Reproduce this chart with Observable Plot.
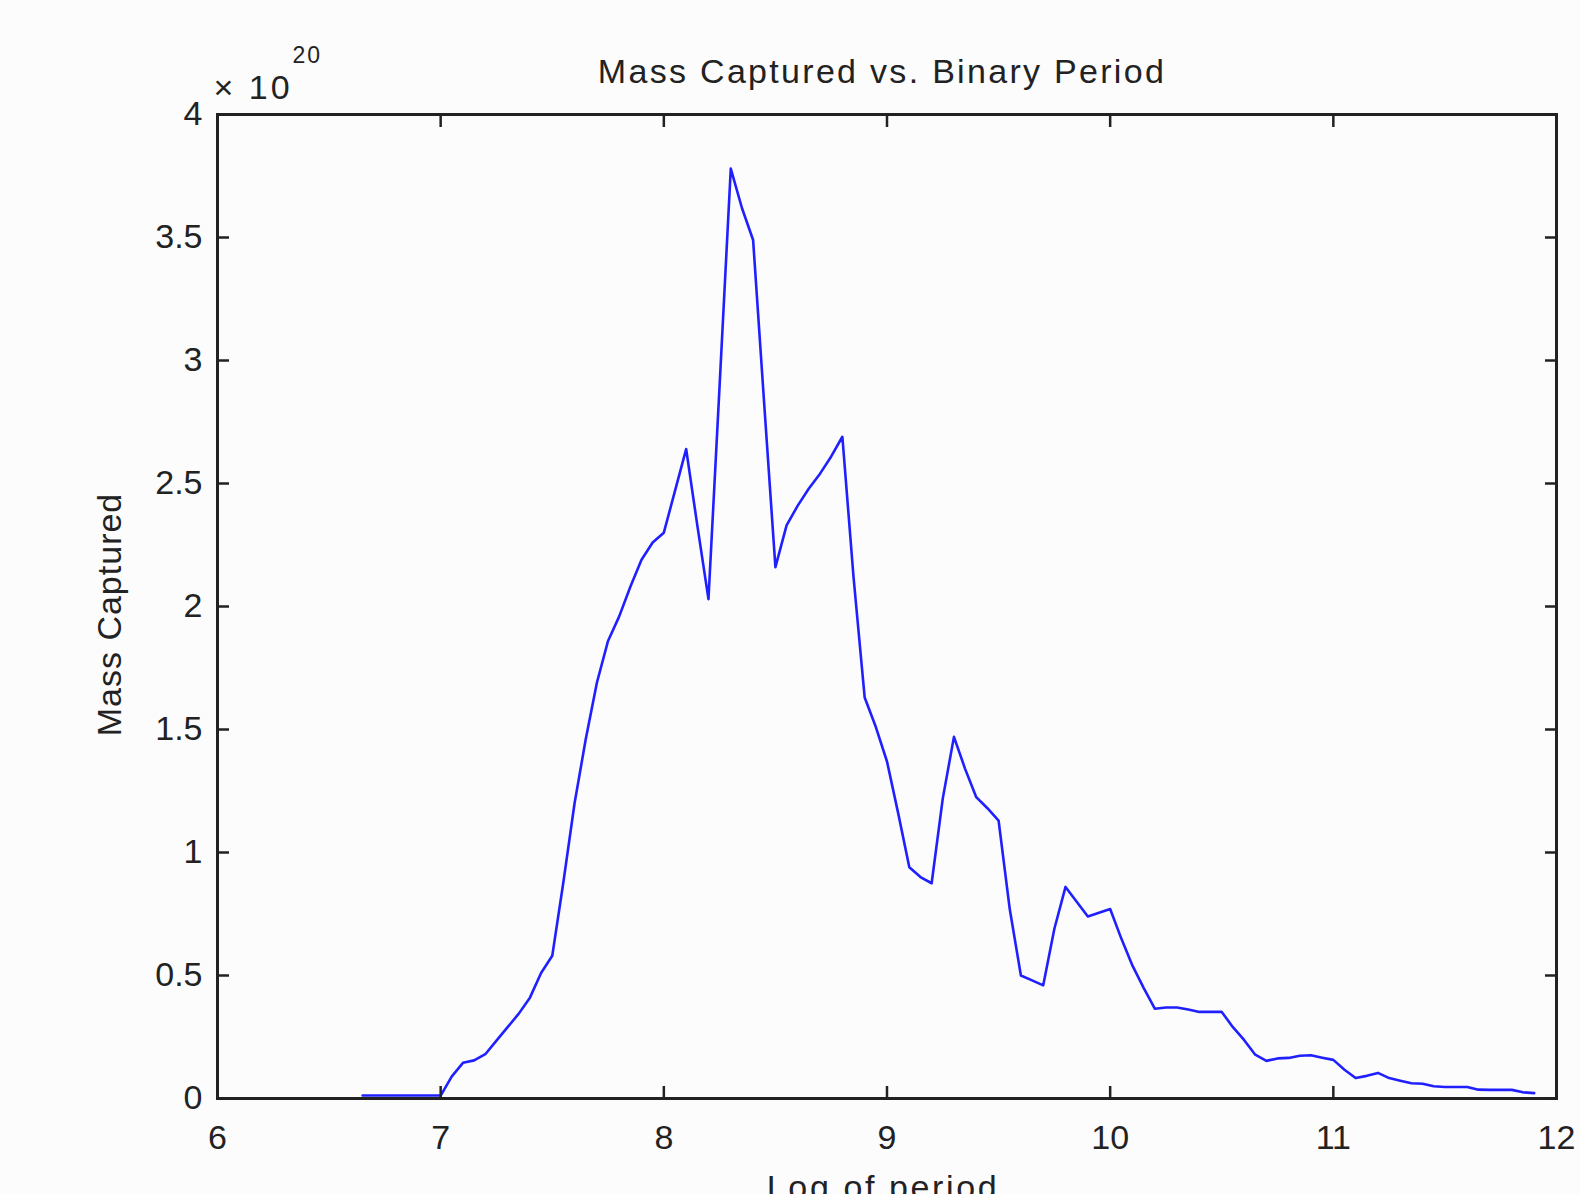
<!DOCTYPE html>
<html><head><meta charset="utf-8">
<script src="https://cdn.jsdelivr.net/npm/d3@7"></script>
<script src="https://cdn.jsdelivr.net/npm/@observablehq/plot@0.6"></script>
<style>
html,body{margin:0;padding:0;background:#fcfcfc;}
#chart svg{display:block;}
</style></head><body><div id="chart"></div>
<script>
// Log of binary period (x) and mass captured in units of 1e20 (y)
const logPeriod = [6.65,6.7,6.75,6.8,6.85,6.9,6.95,7.0,7.05,7.1,7.15,7.2,7.25,7.3,7.35,7.4,7.45,7.5,7.55,7.6,7.65,7.7,7.75,7.8,7.85,7.9,7.95,8.0,8.05,8.1,8.15,8.2,8.25,8.3,8.35,8.4,8.45,8.5,8.55,8.6,8.65,8.7,8.75,8.8,8.85,8.9,8.95,9.0,9.05,9.1,9.15,9.2,9.25,9.3,9.35,9.4,9.45,9.5,9.55,9.6,9.65,9.7,9.75,9.8,9.85,9.9,9.95,10.0,10.05,10.1,10.15,10.2,10.25,10.3,10.35,10.4,10.45,10.5,10.55,10.6,10.65,10.7,10.75,10.8,10.85,10.9,10.95,11.0,11.05,11.1,11.15,11.2,11.25,11.3,11.35,11.4,11.45,11.5,11.55,11.6,11.65,11.7,11.75,11.8,11.85,11.9];
const massCaptured = [0.012,0.012,0.012,0.012,0.012,0.012,0.012,0.012,0.09,0.145,0.155,0.18,0.235,0.29,0.345,0.41,0.51,0.58,0.88,1.2,1.46,1.69,1.86,1.96,2.08,2.19,2.26,2.30,2.47,2.64,2.33,2.03,2.9,3.78,3.62,3.49,2.82,2.16,2.33,2.41,2.48,2.54,2.61,2.69,2.12,1.63,1.51,1.37,1.16,0.94,0.90,0.875,1.22,1.47,1.34,1.225,1.18,1.13,0.77,0.50,0.48,0.46,0.69,0.86,0.80,0.74,0.755,0.77,0.65,0.54,0.45,0.365,0.37,0.37,0.362,0.352,0.352,0.352,0.29,0.238,0.178,0.153,0.163,0.165,0.174,0.176,0.166,0.157,0.117,0.083,0.092,0.104,0.083,0.072,0.062,0.06,0.05,0.047,0.047,0.047,0.036,0.035,0.035,0.035,0.025,0.022];
const xTicks = [6,7,8,9,10,11,12];
const xTickLabels = ["6","7","8","9","10","11","12"];
const yTicks = [0,0.5,1,1.5,2,2.5,3,3.5,4];
const yTickLabels = ["0","0.5","1","1.5","2","2.5","3","3.5","4"];
const titleText = "Mass Captured vs. Binary Period";
const xLabel = "Log of period";
const yLabel = "Mass Captured";
const exponentBase = "× 10";
const exponentPower = "20";

const data = logPeriod.map((x, i) => ({x, y: massCaptured[i]}));
const ink = "#222222";
const font = "'Liberation Sans', Arial, Helvetica, sans-serif";

const chart = Plot.plot({
  width: 1580, height: 1194,
  marginLeft: 217, marginRight: 24, marginTop: 114, marginBottom: 96,
  style: {background: "#fcfcfc", fontFamily: font, color: ink, overflow: "visible"},
  x: {domain: [6, 12]},
  y: {domain: [0, 4]},
  marks: [
    Plot.line(data, {x: "x", y: "y", stroke: "#2020ff", strokeWidth: 2.6}),
    Plot.frame({stroke: ink, strokeWidth: 3}),
    Plot.axisX({anchor: "bottom", ticks: xTicks, tickSize: -12, tickPadding: 38, strokeWidth: 2.5,
      tickFormat: d => xTickLabels[xTicks.indexOf(d)], fontSize: 34, label: null}),
    Plot.axisX({anchor: "top", ticks: xTicks, tickSize: -12, strokeWidth: 2.5, tickFormat: () => "", label: null}),
    Plot.axisY({anchor: "left", ticks: yTicks, tickSize: -12, tickPadding: 27, strokeWidth: 2.5,
      tickFormat: d => yTickLabels[yTicks.indexOf(d)], fontSize: 34, label: null}),
    Plot.axisY({anchor: "right", ticks: yTicks, tickSize: -12, strokeWidth: 2.5, tickFormat: () => "", label: null}),
    Plot.text([titleText], {text: d => d, frameAnchor: "top", lineAnchor: "bottom", dy: -32, dx: -5, fontSize: 34, fill: ink}),
    Plot.text([xLabel], {text: d => d, frameAnchor: "bottom", lineAnchor: "bottom", dy: 100, dx: -4, fontSize: 34, fill: ink}),
    Plot.text([yLabel], {text: d => d, frameAnchor: "left", textAnchor: "middle", lineAnchor: "bottom", rotate: -90, dx: -97, dy: 8, fontSize: 34, fill: ink}),
    Plot.text([exponentBase], {text: d => d, frameAnchor: "top-left", textAnchor: "start", lineAnchor: "bottom", dx: -4, dy: -16, fontSize: 34, fill: ink}),
    Plot.text([exponentPower], {text: d => d, frameAnchor: "top-left", textAnchor: "start", lineAnchor: "bottom", dx: 75, dy: -52, fontSize: 23, fill: ink})
  ]
});
const sel = d3.select(chart).selectAll("text");
sel.filter(function() { return this.textContent === titleText; }).style("letter-spacing", "2.3px");
sel.filter(function() { return this.textContent === exponentBase; }).style("letter-spacing", "3px");
sel.filter(function() { return this.textContent === exponentPower; }).style("letter-spacing", "2px");
sel.filter(function() { return this.textContent === xLabel; }).style("letter-spacing", "2.6px");
sel.filter(function() { return this.textContent === yLabel; }).style("letter-spacing", "1px");
document.getElementById("chart").appendChild(chart);
</script></body></html>
